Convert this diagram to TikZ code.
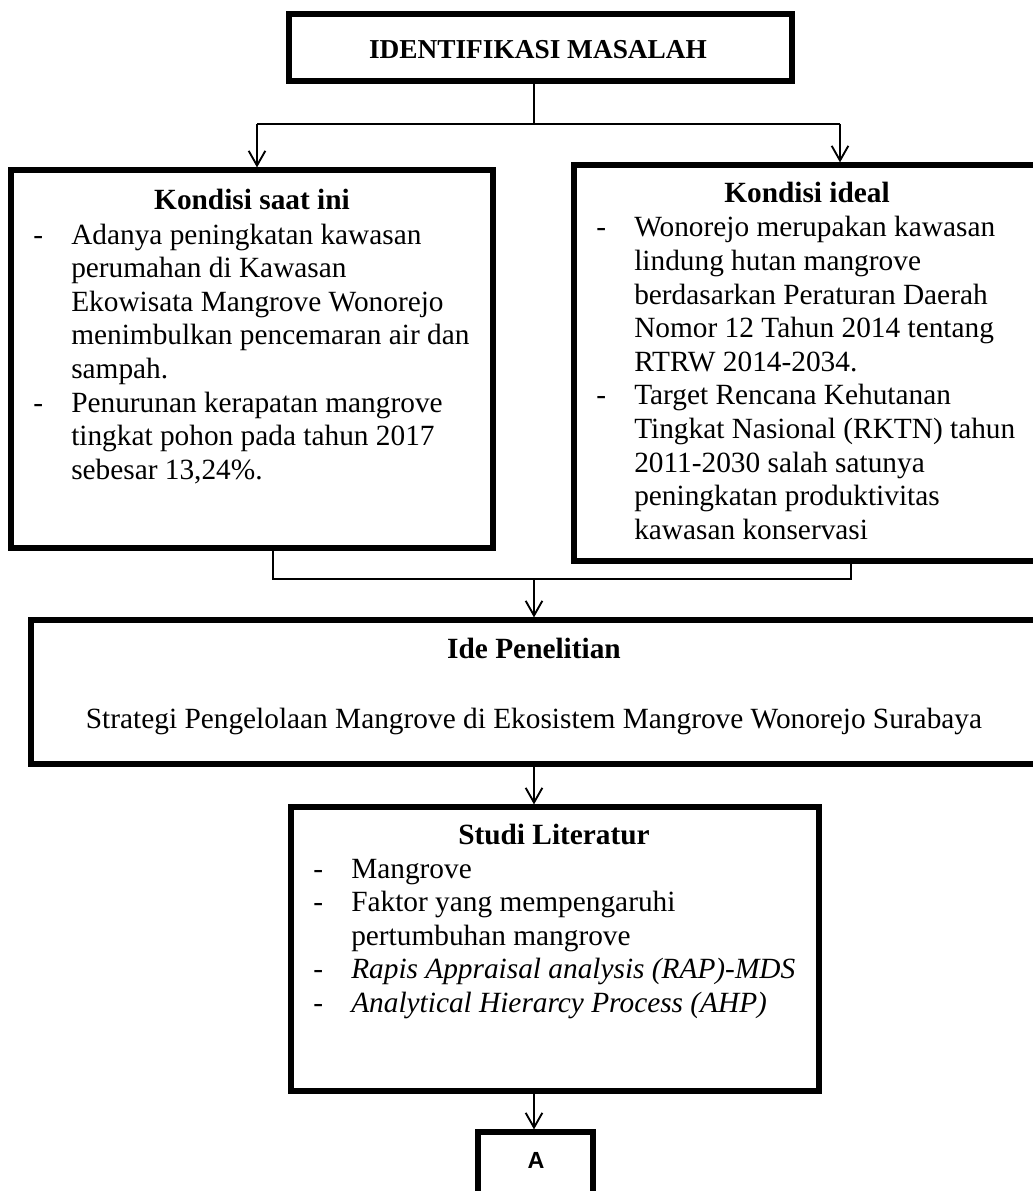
\documentclass[tikz,border=0pt]{standalone}
\usepackage{fontspec}
\setmainfont{Liberation Serif}
\newfontfamily\labelsans{Liberation Sans}
\usetikzlibrary{arrows.meta,fit}

\begin{document}
\begin{tikzpicture}[x=0.75pt,y=-0.75pt,
  frame/.style={draw, line width=3.9pt, inner sep=0pt},
  link/.style={line width=1.4pt},
  arr/.style={link, -{Straight Barb[length=11pt,width=12.5pt,line width=1.4pt]}},
  head/.style={font={\fontsize{22}{25.2}\selectfont\bfseries}, inner sep=0pt, anchor=base},
  plain/.style={font={\fontsize{22}{25.2}\selectfont}, inner sep=0pt, anchor=base},
  body/.style={font={\fontsize{22}{25.2}\selectfont}, inner sep=0pt, anchor=base west},
]
\useasboundingbox (0,0) rectangle (1032,1191);

% boxes
\node[frame, fit={(289,14) (792,81)}] (masalah) {};
\node[frame, fit={(11,170) (493,548)}] (kiri) {};
\node[frame, fit={(574,165) (1042,561)}] (kanan) {};
\node[frame, fit={(31,620) (1040,764)}] (ide) {};
\node[frame, fit={(291,807) (819,1091)}] (studi) {};
\node[frame, fit={(478,1132) (593,1210)}] (huruf) {};

% texts
\node[inner sep=0pt, anchor=base, font={\fontsize{20.5}{24}\selectfont\bfseries}] (masalahjudul) at (538,59) {IDENTIFIKASI MASALAH};

\node[head] (kirijudul) at (252,210) {Kondisi saat ini};
\node[body] (kiriisi) at (33,244) {\begin{tabular}[t]{@{}p{28.5pt}@{}l@{}}
-& Adanya peningkatan kawasan\\
 & perumahan di Kawasan\\
 & Ekowisata Mangrove Wonorejo\\
 & menimbulkan pencemaran air dan\\
 & sampah.\\
-& Penurunan kerapatan mangrove\\
 & tingkat pohon pada tahun 2017\\
 & sebesar 13,24\%.
\end{tabular}};

\node[head] (kananjudul) at (807,203) {Kondisi ideal};
\node[body] (kananisi) at (596,237) {\begin{tabular}[t]{@{}p{28.5pt}@{}l@{}}
-& Wonorejo merupakan kawasan\\
 & lindung hutan mangrove\\
 & berdasarkan Peraturan Daerah\\
 & Nomor 12 Tahun 2014 tentang\\
 & RTRW 2014-2034.\\
-& Target Rencana Kehutanan\\
 & Tingkat Nasional (RKTN) tahun\\
 & 2011-2030 salah satunya\\
 & peningkatan produktivitas\\
 & kawasan konservasi
\end{tabular}};

\node[head] (idejudul) at (534,658) {Ide Penelitian};
\node[plain] (ideisi) at (534,728) {Strategi Pengelolaan Mangrove di Ekosistem Mangrove Wonorejo Surabaya};

\node[head] (studijudul) at (554,844) {Studi Literatur};
\node[body] (studiisi) at (313,878) {\begin{tabular}[t]{@{}p{28.5pt}@{}l@{}}
-& Mangrove\\
-& Faktor yang mempengaruhi\\
 & pertumbuhan mangrove\\
-& \textit{Rapis Appraisal analysis (RAP)-MDS}\\
-& \textit{Analytical Hierarcy Process (AHP)}
\end{tabular}};

\node[inner sep=0pt, anchor=base, font={\labelsans\fontsize{17.5}{20}\selectfont\bfseries}] (hurufisi) at (536,1168) {A};

% connectors
\coordinate (axis) at (534,0);
\coordinate (jl) at (257,124);
\coordinate (jr) at (840,124);
\coordinate (bl) at (273,579);
\coordinate (br) at (851,579);

\draw[link] (masalah.south -| axis) -- (axis |- jl);
\draw[link] (jl) -- (jr);
\draw[arr] (jl) -- (jl |- kiri.north);
\draw[arr] (jr) -- (jr |- kanan.north);

\draw[link] (bl |- kiri.south) -- (bl) -- (br) -- (br |- kanan.south);
\draw[arr] (axis |- bl) -- (axis |- ide.north);
\draw[arr] (ide.south -| axis) -- (studi.north -| axis);
\draw[arr] (studi.south -| axis) -- (huruf.north -| axis);
\end{tikzpicture}
\end{document}
